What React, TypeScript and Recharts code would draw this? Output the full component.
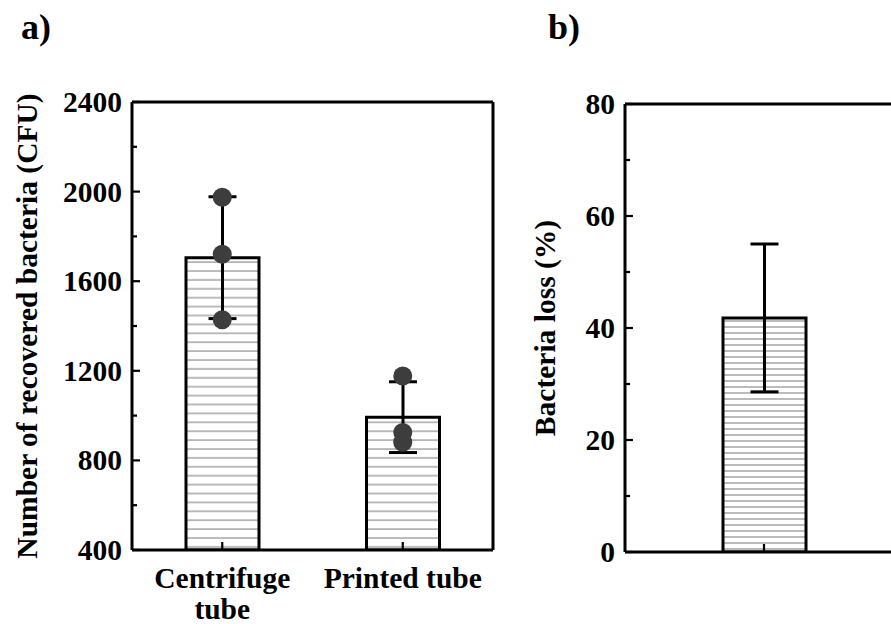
import React from "react";
import { Bar, ComposedChart, ErrorBar, Label, Scatter, XAxis, YAxis } from "recharts";

// panel a
const categoriesA = ["Centrifuge\ntube", "Printed tube"];
const meanA = [1705, 993];
const sdA = [272, 158];
const rep1A = [1975, 1177];
const rep2A = [1720, 925];
const rep3A = [1428, 881];
const ticksA = [400, 600, 800, 1000, 1200, 1400, 1600, 1800, 2000, 2200, 2400];
const majorA = [400, 800, 1200, 1600, 2000, 2400];

// panel b
const categoriesB = [""];
const meanB = [41.8];
const sdB = [13.2];
const ticksB = [0, 10, 20, 30, 40, 50, 60, 70, 80];
const majorB = [0, 20, 40, 60, 80];

const dataA = categoriesA.map((name, i) => ({
  name,
  mean: meanA[i],
  sd: sdA[i],
  p1: rep1A[i],
  p2: rep2A[i],
  p3: rep3A[i],
}));
const dataB = categoriesB.map((name, i) => ({ name, mean: meanB[i], sd: sdB[i] }));

const font = {
  fontFamily: "'Liberation Serif', 'Times New Roman', serif",
  fontWeight: 700,
  fontSize: 29.5,
  fill: "#000",
};

const AXIS = { stroke: "#000", strokeWidth: 3 };

function yTick(major: number[]) {
  return (props: any) => {
    const { x, y, payload } = props;
    const ax = x + 10;
    const isMajor = major.includes(payload.value);
    return (
      <g>
        <line x1={ax} x2={ax + (isMajor ? 8 : 5)} y1={y} y2={y} stroke="#000" strokeWidth={2.2} />
        {isMajor && (
          <text x={x} y={y} textAnchor="end" dominantBaseline="central" style={font}>
            {payload.value}
          </text>
        )}
      </g>
    );
  };
}

function xTick(props: any) {
  const { x, y, payload } = props;
  const ay = y - 14;
  const lines = String(payload.value).split("\n").filter((s) => s.length > 0);
  return (
    <g>
      <line x1={x} x2={x} y1={ay} y2={ay - 8} stroke="#000" strokeWidth={2.2} />
      {lines.map((s, i) => (
        <text key={i} x={x} y={y + 14 + i * 31} textAnchor="middle" dominantBaseline="central" style={font}>
          {s}
        </text>
      ))}
    </g>
  );
}

function yLabel(text: string, x: number) {
  return (props: any) => {
    const vb = props.viewBox;
    const cy = vb ? vb.y + vb.height / 2 : 326;
    return (
      <text x={x} y={cy} transform={`rotate(-90 ${x} ${cy})`} textAnchor="middle" dominantBaseline="central" style={font}>
        {text}
      </text>
    );
  };
}

const dot = (props: any) => <circle cx={props.cx} cy={props.cy} r={9.5} fill="#3d3d3d" />;

export default function App() {
  return (
    <div
      style={{
        position: "absolute",
        left: 0,
        top: 0,
        width: 891,
        height: 624,
        overflow: "hidden",
        background: "#fff",
      }}
    >
      <div style={{ position: "absolute", left: 21, top: 5, ...font, fontSize: 36, color: "#000", lineHeight: "44px" }}>a)</div>
      <div style={{ position: "absolute", left: 548, top: 5, ...font, fontSize: 36, color: "#000", lineHeight: "44px" }}>b)</div>

      <div style={{ position: "absolute", left: 0, top: 0 }}>
        <ComposedChart width={520} height={624} data={dataA} margin={{ top: 101, right: 26, bottom: 0, left: 0 }}>
          <defs>
            <pattern id="hatchA" patternUnits="userSpaceOnUse" width={10} height={8.9}>
              <rect width={10} height={8.9} fill="#fff" />
              <line x1={0} x2={10} y1={4} y2={4} stroke="#777" strokeWidth={1} />
            </pattern>
          </defs>
          <XAxis dataKey="name" height={74} axisLine={AXIS} tickLine={false} tickSize={0} tickMargin={14} tick={xTick} interval={0} />
          <XAxis xAxisId="top" dataKey="name" orientation="top" height={1} axisLine={AXIS} tick={false} tickLine={false} />
          <YAxis
            width={132}
            domain={[400, 2400]}
            ticks={ticksA}
            interval={0}
            allowDataOverflow
            axisLine={AXIS}
            tickLine={false}
            tickSize={0}
            tickMargin={10}
            tick={yTick(majorA)}
          >
            <Label content={yLabel("Number of recovered bacteria (CFU)", 27)} />
          </YAxis>
          <YAxis
            yAxisId="right"
            orientation="right"
            width={1}
            type="number"
            domain={[0, 1]}
            ticks={[0, 1]}
            allowDataOverflow
            axisLine={AXIS}
            tick={false}
            tickLine={false}
          />
          <Bar dataKey="mean" barSize={73} fill="url(#hatchA)" stroke="#000" strokeWidth={3} isAnimationActive={false}>
            <ErrorBar dataKey="sd" width={14} stroke="#000" strokeWidth={3} direction="y" />
          </Bar>
          <Scatter dataKey="p1" shape={dot} isAnimationActive={false} />
          <Scatter dataKey="p2" shape={dot} isAnimationActive={false} />
          <Scatter dataKey="p3" shape={dot} isAnimationActive={false} />
        </ComposedChart>
      </div>

      <div style={{ position: "absolute", left: 520, top: 0 }}>
        <ComposedChart width={400} height={624} data={dataB} margin={{ top: 103, right: 16, bottom: 0, left: 0 }}>
          <defs>
            <pattern id="hatchB" patternUnits="userSpaceOnUse" width={10} height={6}>
              <rect width={10} height={6} fill="#fff" />
              <line x1={0} x2={10} y1={3} y2={3} stroke="#777" strokeWidth={1} />
            </pattern>
          </defs>
          <XAxis dataKey="name" height={72} axisLine={AXIS} tickLine={false} tickSize={0} tickMargin={14} tick={xTick} interval={0} />
          <XAxis xAxisId="top" dataKey="name" orientation="top" height={1} axisLine={AXIS} tick={false} tickLine={false} />
          <YAxis
            width={105}
            domain={[0, 80]}
            ticks={ticksB}
            interval={0}
            allowDataOverflow
            axisLine={AXIS}
            tickLine={false}
            tickSize={0}
            tickMargin={10}
            tick={yTick(majorB)}
          >
            <Label content={yLabel("Bacteria loss (%)", 25)} />
          </YAxis>
          <YAxis
            yAxisId="right"
            orientation="right"
            width={1}
            type="number"
            domain={[0, 1]}
            ticks={[0, 1]}
            allowDataOverflow
            axisLine={AXIS}
            tick={false}
            tickLine={false}
          />
          <Bar dataKey="mean" barSize={83} fill="url(#hatchB)" stroke="#000" strokeWidth={3} isAnimationActive={false}>
            <ErrorBar dataKey="sd" width={14} stroke="#000" strokeWidth={3} direction="y" />
          </Bar>
        </ComposedChart>
      </div>
    </div>
  );
}
